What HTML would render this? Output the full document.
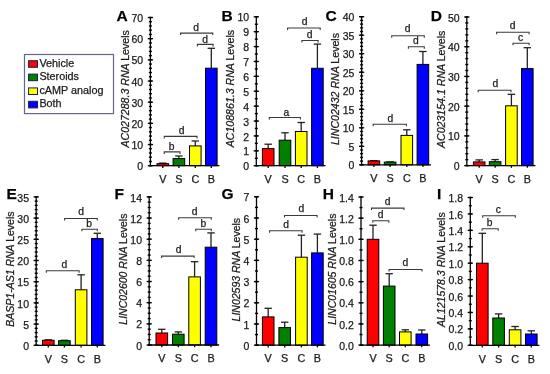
<!DOCTYPE html>
<html><head><meta charset="utf-8"><style>
html,body{margin:0;padding:0;background:#fff;}
svg{display:block;filter:blur(0.3px);}
text{font-family:"Liberation Sans", sans-serif;fill:#1a1a1a;stroke:#1a1a1a;stroke-width:0.25px;paint-order:stroke;}
.let{font-size:15.5px;font-weight:bold;fill:#000;}
.tk{font-size:10.5px;text-anchor:end;}
.xl{font-size:10.8px;text-anchor:middle;}
.bl{font-size:10.3px;text-anchor:middle;}
.yl{text-anchor:end;}
.lg{font-size:10.8px;}
.ax{stroke:#000;stroke-width:1.3;fill:none;}
.mt{stroke:#000;stroke-width:1.4;}
.Mt{stroke:#000;stroke-width:1.3;}
.eb{stroke:#222;stroke-width:1.3;fill:none;}
.bar{stroke:#000;stroke-width:1;}
.brk{stroke:#3a3a3a;stroke-width:1.1;fill:none;}
</style></head><body>
<svg width="550" height="374" viewBox="0 0 550 374">
<rect width="550" height="374" fill="#fff"/>

<rect x="24.5" y="54.5" width="89" height="59.1" fill="#fff" stroke="#636888" stroke-width="1.2"/>
<rect x="28.6" y="60.7" width="8.9" height="6.6" fill="#ff0000" stroke="#1a1f4a" stroke-width="1"/>
<rect x="28.6" y="74.1" width="8.9" height="6.6" fill="#008000" stroke="#1a1f4a" stroke-width="1"/>
<rect x="28.6" y="87.9" width="8.9" height="6.6" fill="#ffff00" stroke="#1a1f4a" stroke-width="1"/>
<rect x="28.6" y="101.3" width="8.9" height="6.6" fill="#0000ff" stroke="#1a1f4a" stroke-width="1"/>
<text x="39.4" y="67.1" class="lg">Vehicle</text>
<text x="39.4" y="80.4" class="lg">Steroids</text>
<text x="39.4" y="93.9" class="lg">cAMP analog</text>
<text x="39.4" y="107.0" class="lg">Both</text>

<text x="116.5" y="21.2" class="let">A</text>
<line x1="150.4" y1="17.5" x2="150.4" y2="165.7" class="ax"/>
<line x1="148.90" y1="165.70" x2="151.90" y2="165.70" class="mt"/>
<line x1="148.90" y1="161.47" x2="151.90" y2="161.47" class="mt"/>
<line x1="148.90" y1="157.23" x2="151.90" y2="157.23" class="mt"/>
<line x1="148.90" y1="153.00" x2="151.90" y2="153.00" class="mt"/>
<line x1="148.90" y1="148.76" x2="151.90" y2="148.76" class="mt"/>
<line x1="148.90" y1="144.53" x2="151.90" y2="144.53" class="mt"/>
<line x1="148.90" y1="140.29" x2="151.90" y2="140.29" class="mt"/>
<line x1="148.90" y1="136.06" x2="151.90" y2="136.06" class="mt"/>
<line x1="148.90" y1="131.83" x2="151.90" y2="131.83" class="mt"/>
<line x1="148.90" y1="127.59" x2="151.90" y2="127.59" class="mt"/>
<line x1="148.90" y1="123.36" x2="151.90" y2="123.36" class="mt"/>
<line x1="148.90" y1="119.12" x2="151.90" y2="119.12" class="mt"/>
<line x1="148.90" y1="114.89" x2="151.90" y2="114.89" class="mt"/>
<line x1="148.90" y1="110.65" x2="151.90" y2="110.65" class="mt"/>
<line x1="148.90" y1="106.42" x2="151.90" y2="106.42" class="mt"/>
<line x1="148.90" y1="102.19" x2="151.90" y2="102.19" class="mt"/>
<line x1="148.90" y1="97.95" x2="151.90" y2="97.95" class="mt"/>
<line x1="148.90" y1="93.72" x2="151.90" y2="93.72" class="mt"/>
<line x1="148.90" y1="89.48" x2="151.90" y2="89.48" class="mt"/>
<line x1="148.90" y1="85.25" x2="151.90" y2="85.25" class="mt"/>
<line x1="148.90" y1="81.01" x2="151.90" y2="81.01" class="mt"/>
<line x1="148.90" y1="76.78" x2="151.90" y2="76.78" class="mt"/>
<line x1="148.90" y1="72.55" x2="151.90" y2="72.55" class="mt"/>
<line x1="148.90" y1="68.31" x2="151.90" y2="68.31" class="mt"/>
<line x1="148.90" y1="64.08" x2="151.90" y2="64.08" class="mt"/>
<line x1="148.90" y1="59.84" x2="151.90" y2="59.84" class="mt"/>
<line x1="148.90" y1="55.61" x2="151.90" y2="55.61" class="mt"/>
<line x1="148.90" y1="51.37" x2="151.90" y2="51.37" class="mt"/>
<line x1="148.90" y1="47.14" x2="151.90" y2="47.14" class="mt"/>
<line x1="148.90" y1="42.91" x2="151.90" y2="42.91" class="mt"/>
<line x1="148.90" y1="38.67" x2="151.90" y2="38.67" class="mt"/>
<line x1="148.90" y1="34.44" x2="151.90" y2="34.44" class="mt"/>
<line x1="148.90" y1="30.20" x2="151.90" y2="30.20" class="mt"/>
<line x1="148.90" y1="25.97" x2="151.90" y2="25.97" class="mt"/>
<line x1="148.90" y1="21.73" x2="151.90" y2="21.73" class="mt"/>
<line x1="148.90" y1="17.50" x2="151.90" y2="17.50" class="mt"/>
<line x1="147.80" y1="165.70" x2="153.00" y2="165.70" class="Mt"/>
<text x="143.20" y="170.30" class="tk">0</text>
<line x1="147.80" y1="144.53" x2="153.00" y2="144.53" class="Mt"/>
<text x="143.20" y="149.13" class="tk">10</text>
<line x1="147.80" y1="123.36" x2="153.00" y2="123.36" class="Mt"/>
<text x="143.20" y="127.96" class="tk">20</text>
<line x1="147.80" y1="102.19" x2="153.00" y2="102.19" class="Mt"/>
<text x="143.20" y="106.79" class="tk">30</text>
<line x1="147.80" y1="81.01" x2="153.00" y2="81.01" class="Mt"/>
<text x="143.20" y="85.61" class="tk">40</text>
<line x1="147.80" y1="59.84" x2="153.00" y2="59.84" class="Mt"/>
<text x="143.20" y="64.44" class="tk">50</text>
<line x1="147.80" y1="38.67" x2="153.00" y2="38.67" class="Mt"/>
<text x="143.20" y="43.27" class="tk">60</text>
<line x1="147.80" y1="17.50" x2="153.00" y2="17.50" class="Mt"/>
<text x="143.20" y="22.10" class="tk">70</text>
<line x1="162.80" y1="163.10" x2="162.80" y2="163.70" class="eb"/>
<line x1="159.10" y1="163.10" x2="166.50" y2="163.10" class="eb"/>
<rect x="157.00" y="163.70" width="11.6" height="2.00" fill="#ff0000" class="bar"/>
<line x1="162.80" y1="165.70" x2="162.80" y2="167.90" class="ax"/>
<text x="162.80" y="182.90" class="xl">V</text>
<line x1="178.90" y1="156.00" x2="178.90" y2="158.60" class="eb"/>
<line x1="175.20" y1="156.00" x2="182.60" y2="156.00" class="eb"/>
<rect x="173.10" y="158.60" width="11.6" height="7.10" fill="#008000" class="bar"/>
<line x1="178.90" y1="165.70" x2="178.90" y2="167.90" class="ax"/>
<text x="178.90" y="182.90" class="xl">S</text>
<line x1="195.30" y1="141.00" x2="195.30" y2="145.90" class="eb"/>
<line x1="191.60" y1="141.00" x2="199.00" y2="141.00" class="eb"/>
<rect x="189.50" y="145.90" width="11.6" height="19.80" fill="#ffff00" class="bar"/>
<line x1="195.30" y1="165.70" x2="195.30" y2="167.90" class="ax"/>
<text x="195.30" y="182.90" class="xl">C</text>
<line x1="211.30" y1="48.30" x2="211.30" y2="68.20" class="eb"/>
<line x1="207.60" y1="48.30" x2="215.00" y2="48.30" class="eb"/>
<rect x="205.50" y="68.20" width="11.6" height="97.50" fill="#0000ff" class="bar"/>
<line x1="211.30" y1="165.70" x2="211.30" y2="167.90" class="ax"/>
<text x="211.30" y="182.90" class="xl">B</text>
<line x1="149.80" y1="165.70" x2="219.40" y2="165.70" class="ax"/>
<path d="M164.20 153.90V151.90H180.00V153.90" class="brk"/>
<text x="171.60" y="149.80" class="bl">b</text>
<path d="M164.30 138.40V136.40H197.00V138.40" class="brk"/>
<text x="181.50" y="133.50" class="bl">d</text>
<path d="M197.40 46.40V44.40H213.10V46.40" class="brk"/>
<text x="205.00" y="42.50" class="bl">d</text>
<path d="M180.60 35.10V33.10H212.80V35.10" class="brk"/>
<text x="196.00" y="30.50" class="bl">d</text>
<text transform="translate(128.50,30.20) rotate(-90)" class="yl" font-size="10.6"><tspan font-style="italic">AC027288.3 RNA </tspan>Levels</text>
<text x="221.5" y="21.2" class="let">B</text>
<line x1="256.3" y1="16.8" x2="256.3" y2="165.7" class="ax"/>
<line x1="254.80" y1="165.70" x2="257.80" y2="165.70" class="mt"/>
<line x1="254.80" y1="158.25" x2="257.80" y2="158.25" class="mt"/>
<line x1="254.80" y1="150.81" x2="257.80" y2="150.81" class="mt"/>
<line x1="254.80" y1="143.37" x2="257.80" y2="143.37" class="mt"/>
<line x1="254.80" y1="135.92" x2="257.80" y2="135.92" class="mt"/>
<line x1="254.80" y1="128.47" x2="257.80" y2="128.47" class="mt"/>
<line x1="254.80" y1="121.03" x2="257.80" y2="121.03" class="mt"/>
<line x1="254.80" y1="113.59" x2="257.80" y2="113.59" class="mt"/>
<line x1="254.80" y1="106.14" x2="257.80" y2="106.14" class="mt"/>
<line x1="254.80" y1="98.70" x2="257.80" y2="98.70" class="mt"/>
<line x1="254.80" y1="91.25" x2="257.80" y2="91.25" class="mt"/>
<line x1="254.80" y1="83.81" x2="257.80" y2="83.81" class="mt"/>
<line x1="254.80" y1="76.36" x2="257.80" y2="76.36" class="mt"/>
<line x1="254.80" y1="68.92" x2="257.80" y2="68.92" class="mt"/>
<line x1="254.80" y1="61.47" x2="257.80" y2="61.47" class="mt"/>
<line x1="254.80" y1="54.03" x2="257.80" y2="54.03" class="mt"/>
<line x1="254.80" y1="46.58" x2="257.80" y2="46.58" class="mt"/>
<line x1="254.80" y1="39.14" x2="257.80" y2="39.14" class="mt"/>
<line x1="254.80" y1="31.69" x2="257.80" y2="31.69" class="mt"/>
<line x1="254.80" y1="24.25" x2="257.80" y2="24.25" class="mt"/>
<line x1="254.80" y1="16.80" x2="257.80" y2="16.80" class="mt"/>
<line x1="253.70" y1="165.70" x2="258.90" y2="165.70" class="Mt"/>
<text x="249.10" y="170.30" class="tk">0</text>
<line x1="253.70" y1="150.81" x2="258.90" y2="150.81" class="Mt"/>
<text x="249.10" y="155.41" class="tk">1</text>
<line x1="253.70" y1="135.92" x2="258.90" y2="135.92" class="Mt"/>
<text x="249.10" y="140.52" class="tk">2</text>
<line x1="253.70" y1="121.03" x2="258.90" y2="121.03" class="Mt"/>
<text x="249.10" y="125.63" class="tk">3</text>
<line x1="253.70" y1="106.14" x2="258.90" y2="106.14" class="Mt"/>
<text x="249.10" y="110.74" class="tk">4</text>
<line x1="253.70" y1="91.25" x2="258.90" y2="91.25" class="Mt"/>
<text x="249.10" y="95.85" class="tk">5</text>
<line x1="253.70" y1="76.36" x2="258.90" y2="76.36" class="Mt"/>
<text x="249.10" y="80.96" class="tk">6</text>
<line x1="253.70" y1="61.47" x2="258.90" y2="61.47" class="Mt"/>
<text x="249.10" y="66.07" class="tk">7</text>
<line x1="253.70" y1="46.58" x2="258.90" y2="46.58" class="Mt"/>
<text x="249.10" y="51.18" class="tk">8</text>
<line x1="253.70" y1="31.69" x2="258.90" y2="31.69" class="Mt"/>
<text x="249.10" y="36.29" class="tk">9</text>
<line x1="253.70" y1="16.80" x2="258.90" y2="16.80" class="Mt"/>
<text x="249.10" y="21.40" class="tk">10</text>
<line x1="268.20" y1="144.20" x2="268.20" y2="148.60" class="eb"/>
<line x1="264.50" y1="144.20" x2="271.90" y2="144.20" class="eb"/>
<rect x="262.40" y="148.60" width="11.6" height="17.10" fill="#ff0000" class="bar"/>
<line x1="268.20" y1="165.70" x2="268.20" y2="167.90" class="ax"/>
<text x="268.20" y="182.90" class="xl">V</text>
<line x1="285.00" y1="132.80" x2="285.00" y2="140.20" class="eb"/>
<line x1="281.30" y1="132.80" x2="288.70" y2="132.80" class="eb"/>
<rect x="279.20" y="140.20" width="11.6" height="25.50" fill="#008000" class="bar"/>
<line x1="285.00" y1="165.70" x2="285.00" y2="167.90" class="ax"/>
<text x="285.00" y="182.90" class="xl">S</text>
<line x1="301.20" y1="122.50" x2="301.20" y2="131.50" class="eb"/>
<line x1="297.50" y1="122.50" x2="304.90" y2="122.50" class="eb"/>
<rect x="295.40" y="131.50" width="11.6" height="34.20" fill="#ffff00" class="bar"/>
<line x1="301.20" y1="165.70" x2="301.20" y2="167.90" class="ax"/>
<text x="301.20" y="182.90" class="xl">C</text>
<line x1="317.40" y1="44.10" x2="317.40" y2="68.30" class="eb"/>
<line x1="313.70" y1="44.10" x2="321.10" y2="44.10" class="eb"/>
<rect x="311.60" y="68.30" width="11.6" height="97.40" fill="#0000ff" class="bar"/>
<line x1="317.40" y1="165.70" x2="317.40" y2="167.90" class="ax"/>
<text x="317.40" y="182.90" class="xl">B</text>
<line x1="255.70" y1="165.70" x2="325.50" y2="165.70" class="ax"/>
<path d="M269.30 119.50V117.50H300.40V119.50" class="brk"/>
<text x="286.40" y="115.60" class="bl">a</text>
<path d="M301.90 42.50V40.50H318.10V42.50" class="brk"/>
<text x="309.70" y="38.30" class="bl">d</text>
<path d="M287.60 30.00V28.00H320.20V30.00" class="brk"/>
<text x="304.50" y="25.00" class="bl">d</text>
<text transform="translate(234.00,29.90) rotate(-90)" class="yl" font-size="10.6"><tspan font-style="italic">AC108861.3 RNA </tspan>Levels</text>
<text x="325.5" y="21.2" class="let">C</text>
<line x1="361.6" y1="16.7" x2="361.6" y2="164.8" class="ax"/>
<line x1="360.10" y1="164.80" x2="363.10" y2="164.80" class="mt"/>
<line x1="360.10" y1="161.10" x2="363.10" y2="161.10" class="mt"/>
<line x1="360.10" y1="157.40" x2="363.10" y2="157.40" class="mt"/>
<line x1="360.10" y1="153.69" x2="363.10" y2="153.69" class="mt"/>
<line x1="360.10" y1="149.99" x2="363.10" y2="149.99" class="mt"/>
<line x1="360.10" y1="146.29" x2="363.10" y2="146.29" class="mt"/>
<line x1="360.10" y1="142.59" x2="363.10" y2="142.59" class="mt"/>
<line x1="360.10" y1="138.88" x2="363.10" y2="138.88" class="mt"/>
<line x1="360.10" y1="135.18" x2="363.10" y2="135.18" class="mt"/>
<line x1="360.10" y1="131.48" x2="363.10" y2="131.48" class="mt"/>
<line x1="360.10" y1="127.78" x2="363.10" y2="127.78" class="mt"/>
<line x1="360.10" y1="124.07" x2="363.10" y2="124.07" class="mt"/>
<line x1="360.10" y1="120.37" x2="363.10" y2="120.37" class="mt"/>
<line x1="360.10" y1="116.67" x2="363.10" y2="116.67" class="mt"/>
<line x1="360.10" y1="112.97" x2="363.10" y2="112.97" class="mt"/>
<line x1="360.10" y1="109.26" x2="363.10" y2="109.26" class="mt"/>
<line x1="360.10" y1="105.56" x2="363.10" y2="105.56" class="mt"/>
<line x1="360.10" y1="101.86" x2="363.10" y2="101.86" class="mt"/>
<line x1="360.10" y1="98.16" x2="363.10" y2="98.16" class="mt"/>
<line x1="360.10" y1="94.45" x2="363.10" y2="94.45" class="mt"/>
<line x1="360.10" y1="90.75" x2="363.10" y2="90.75" class="mt"/>
<line x1="360.10" y1="87.05" x2="363.10" y2="87.05" class="mt"/>
<line x1="360.10" y1="83.34" x2="363.10" y2="83.34" class="mt"/>
<line x1="360.10" y1="79.64" x2="363.10" y2="79.64" class="mt"/>
<line x1="360.10" y1="75.94" x2="363.10" y2="75.94" class="mt"/>
<line x1="360.10" y1="72.24" x2="363.10" y2="72.24" class="mt"/>
<line x1="360.10" y1="68.53" x2="363.10" y2="68.53" class="mt"/>
<line x1="360.10" y1="64.83" x2="363.10" y2="64.83" class="mt"/>
<line x1="360.10" y1="61.13" x2="363.10" y2="61.13" class="mt"/>
<line x1="360.10" y1="57.43" x2="363.10" y2="57.43" class="mt"/>
<line x1="360.10" y1="53.72" x2="363.10" y2="53.72" class="mt"/>
<line x1="360.10" y1="50.02" x2="363.10" y2="50.02" class="mt"/>
<line x1="360.10" y1="46.32" x2="363.10" y2="46.32" class="mt"/>
<line x1="360.10" y1="42.62" x2="363.10" y2="42.62" class="mt"/>
<line x1="360.10" y1="38.91" x2="363.10" y2="38.91" class="mt"/>
<line x1="360.10" y1="35.21" x2="363.10" y2="35.21" class="mt"/>
<line x1="360.10" y1="31.51" x2="363.10" y2="31.51" class="mt"/>
<line x1="360.10" y1="27.81" x2="363.10" y2="27.81" class="mt"/>
<line x1="360.10" y1="24.10" x2="363.10" y2="24.10" class="mt"/>
<line x1="360.10" y1="20.40" x2="363.10" y2="20.40" class="mt"/>
<line x1="360.10" y1="16.70" x2="363.10" y2="16.70" class="mt"/>
<line x1="359.00" y1="164.80" x2="364.20" y2="164.80" class="Mt"/>
<text x="354.40" y="169.40" class="tk">0</text>
<line x1="359.00" y1="146.29" x2="364.20" y2="146.29" class="Mt"/>
<text x="354.40" y="150.89" class="tk">5</text>
<line x1="359.00" y1="127.78" x2="364.20" y2="127.78" class="Mt"/>
<text x="354.40" y="132.38" class="tk">10</text>
<line x1="359.00" y1="109.26" x2="364.20" y2="109.26" class="Mt"/>
<text x="354.40" y="113.86" class="tk">15</text>
<line x1="359.00" y1="90.75" x2="364.20" y2="90.75" class="Mt"/>
<text x="354.40" y="95.35" class="tk">20</text>
<line x1="359.00" y1="72.24" x2="364.20" y2="72.24" class="Mt"/>
<text x="354.40" y="76.84" class="tk">25</text>
<line x1="359.00" y1="53.72" x2="364.20" y2="53.72" class="Mt"/>
<text x="354.40" y="58.32" class="tk">30</text>
<line x1="359.00" y1="35.21" x2="364.20" y2="35.21" class="Mt"/>
<text x="354.40" y="39.81" class="tk">35</text>
<line x1="359.00" y1="16.70" x2="364.20" y2="16.70" class="Mt"/>
<text x="354.40" y="21.30" class="tk">40</text>
<line x1="373.90" y1="160.70" x2="373.90" y2="160.90" class="eb"/>
<line x1="370.20" y1="160.70" x2="377.60" y2="160.70" class="eb"/>
<rect x="368.10" y="160.90" width="11.6" height="3.90" fill="#ff0000" class="bar"/>
<line x1="373.90" y1="164.80" x2="373.90" y2="167.00" class="ax"/>
<text x="373.90" y="182.00" class="xl">V</text>
<line x1="390.10" y1="161.90" x2="390.10" y2="162.10" class="eb"/>
<line x1="386.40" y1="161.90" x2="393.80" y2="161.90" class="eb"/>
<rect x="384.30" y="162.10" width="11.6" height="2.70" fill="#008000" class="bar"/>
<line x1="390.10" y1="164.80" x2="390.10" y2="167.00" class="ax"/>
<text x="390.10" y="182.00" class="xl">S</text>
<line x1="406.80" y1="129.80" x2="406.80" y2="135.40" class="eb"/>
<line x1="403.10" y1="129.80" x2="410.50" y2="129.80" class="eb"/>
<rect x="401.00" y="135.40" width="11.6" height="29.40" fill="#ffff00" class="bar"/>
<line x1="406.80" y1="164.80" x2="406.80" y2="167.00" class="ax"/>
<text x="406.80" y="182.00" class="xl">C</text>
<line x1="422.90" y1="51.50" x2="422.90" y2="64.40" class="eb"/>
<line x1="419.20" y1="51.50" x2="426.60" y2="51.50" class="eb"/>
<rect x="417.10" y="64.40" width="11.6" height="100.40" fill="#0000ff" class="bar"/>
<line x1="422.90" y1="164.80" x2="422.90" y2="167.00" class="ax"/>
<text x="422.90" y="182.00" class="xl">B</text>
<line x1="361.00" y1="164.80" x2="431.00" y2="164.80" class="ax"/>
<path d="M373.20 126.30V124.30H406.40V126.30" class="brk"/>
<text x="390.40" y="121.50" class="bl">d</text>
<path d="M408.40 48.70V46.70H424.30V48.70" class="brk"/>
<text x="415.80" y="44.10" class="bl">d</text>
<path d="M391.70 37.80V35.80H424.30V37.80" class="brk"/>
<text x="407.50" y="32.10" class="bl">d</text>
<text transform="translate(338.60,33.00) rotate(-90)" class="yl" font-size="10.6"><tspan font-style="italic">LINC02432 RNA </tspan>Levels</text>
<text x="430.8" y="21.2" class="let">D</text>
<line x1="466.8" y1="17.0" x2="466.8" y2="165.6" class="ax"/>
<line x1="465.30" y1="165.60" x2="468.30" y2="165.60" class="mt"/>
<line x1="465.30" y1="159.66" x2="468.30" y2="159.66" class="mt"/>
<line x1="465.30" y1="153.71" x2="468.30" y2="153.71" class="mt"/>
<line x1="465.30" y1="147.77" x2="468.30" y2="147.77" class="mt"/>
<line x1="465.30" y1="141.82" x2="468.30" y2="141.82" class="mt"/>
<line x1="465.30" y1="135.88" x2="468.30" y2="135.88" class="mt"/>
<line x1="465.30" y1="129.94" x2="468.30" y2="129.94" class="mt"/>
<line x1="465.30" y1="123.99" x2="468.30" y2="123.99" class="mt"/>
<line x1="465.30" y1="118.05" x2="468.30" y2="118.05" class="mt"/>
<line x1="465.30" y1="112.10" x2="468.30" y2="112.10" class="mt"/>
<line x1="465.30" y1="106.16" x2="468.30" y2="106.16" class="mt"/>
<line x1="465.30" y1="100.22" x2="468.30" y2="100.22" class="mt"/>
<line x1="465.30" y1="94.27" x2="468.30" y2="94.27" class="mt"/>
<line x1="465.30" y1="88.33" x2="468.30" y2="88.33" class="mt"/>
<line x1="465.30" y1="82.38" x2="468.30" y2="82.38" class="mt"/>
<line x1="465.30" y1="76.44" x2="468.30" y2="76.44" class="mt"/>
<line x1="465.30" y1="70.50" x2="468.30" y2="70.50" class="mt"/>
<line x1="465.30" y1="64.55" x2="468.30" y2="64.55" class="mt"/>
<line x1="465.30" y1="58.61" x2="468.30" y2="58.61" class="mt"/>
<line x1="465.30" y1="52.66" x2="468.30" y2="52.66" class="mt"/>
<line x1="465.30" y1="46.72" x2="468.30" y2="46.72" class="mt"/>
<line x1="465.30" y1="40.78" x2="468.30" y2="40.78" class="mt"/>
<line x1="465.30" y1="34.83" x2="468.30" y2="34.83" class="mt"/>
<line x1="465.30" y1="28.89" x2="468.30" y2="28.89" class="mt"/>
<line x1="465.30" y1="22.94" x2="468.30" y2="22.94" class="mt"/>
<line x1="465.30" y1="17.00" x2="468.30" y2="17.00" class="mt"/>
<line x1="464.20" y1="165.60" x2="469.40" y2="165.60" class="Mt"/>
<text x="459.60" y="170.20" class="tk">0</text>
<line x1="464.20" y1="135.88" x2="469.40" y2="135.88" class="Mt"/>
<text x="459.60" y="140.48" class="tk">10</text>
<line x1="464.20" y1="106.16" x2="469.40" y2="106.16" class="Mt"/>
<text x="459.60" y="110.76" class="tk">20</text>
<line x1="464.20" y1="76.44" x2="469.40" y2="76.44" class="Mt"/>
<text x="459.60" y="81.04" class="tk">30</text>
<line x1="464.20" y1="46.72" x2="469.40" y2="46.72" class="Mt"/>
<text x="459.60" y="51.32" class="tk">40</text>
<line x1="464.20" y1="17.00" x2="469.40" y2="17.00" class="Mt"/>
<text x="459.60" y="21.60" class="tk">50</text>
<line x1="479.20" y1="159.90" x2="479.20" y2="161.90" class="eb"/>
<line x1="475.50" y1="159.90" x2="482.90" y2="159.90" class="eb"/>
<rect x="473.40" y="161.90" width="11.6" height="3.70" fill="#ff0000" class="bar"/>
<line x1="479.20" y1="165.60" x2="479.20" y2="167.80" class="ax"/>
<text x="479.20" y="182.80" class="xl">V</text>
<line x1="495.10" y1="159.60" x2="495.10" y2="161.70" class="eb"/>
<line x1="491.40" y1="159.60" x2="498.80" y2="159.60" class="eb"/>
<rect x="489.30" y="161.70" width="11.6" height="3.90" fill="#008000" class="bar"/>
<line x1="495.10" y1="165.60" x2="495.10" y2="167.80" class="ax"/>
<text x="495.10" y="182.80" class="xl">S</text>
<line x1="511.40" y1="94.30" x2="511.40" y2="105.80" class="eb"/>
<line x1="507.70" y1="94.30" x2="515.10" y2="94.30" class="eb"/>
<rect x="505.60" y="105.80" width="11.6" height="59.80" fill="#ffff00" class="bar"/>
<line x1="511.40" y1="165.60" x2="511.40" y2="167.80" class="ax"/>
<text x="511.40" y="182.80" class="xl">C</text>
<line x1="527.30" y1="47.70" x2="527.30" y2="68.60" class="eb"/>
<line x1="523.60" y1="47.70" x2="531.00" y2="47.70" class="eb"/>
<rect x="521.50" y="68.60" width="11.6" height="97.00" fill="#0000ff" class="bar"/>
<line x1="527.30" y1="165.60" x2="527.30" y2="167.80" class="ax"/>
<text x="527.30" y="182.80" class="xl">B</text>
<line x1="466.20" y1="165.60" x2="535.40" y2="165.60" class="ax"/>
<path d="M478.20 92.20V90.20H511.00V92.20" class="brk"/>
<text x="495.30" y="87.20" class="bl">d</text>
<path d="M513.00 45.30V43.30H529.10V45.30" class="brk"/>
<text x="520.50" y="41.10" class="bl">c</text>
<path d="M496.60 34.20V32.20H529.10V34.20" class="brk"/>
<text x="512.50" y="28.80" class="bl">d</text>
<text transform="translate(445.00,30.70) rotate(-90)" class="yl" font-size="10.6"><tspan font-style="italic">AC023154.1 RNA </tspan>Levels</text>
<text x="6.5" y="199.3" class="let">E</text>
<line x1="36.2" y1="196.9" x2="36.2" y2="345.3" class="ax"/>
<line x1="34.70" y1="345.30" x2="37.70" y2="345.30" class="mt"/>
<line x1="34.70" y1="341.06" x2="37.70" y2="341.06" class="mt"/>
<line x1="34.70" y1="336.82" x2="37.70" y2="336.82" class="mt"/>
<line x1="34.70" y1="332.58" x2="37.70" y2="332.58" class="mt"/>
<line x1="34.70" y1="328.34" x2="37.70" y2="328.34" class="mt"/>
<line x1="34.70" y1="324.10" x2="37.70" y2="324.10" class="mt"/>
<line x1="34.70" y1="319.86" x2="37.70" y2="319.86" class="mt"/>
<line x1="34.70" y1="315.62" x2="37.70" y2="315.62" class="mt"/>
<line x1="34.70" y1="311.38" x2="37.70" y2="311.38" class="mt"/>
<line x1="34.70" y1="307.14" x2="37.70" y2="307.14" class="mt"/>
<line x1="34.70" y1="302.90" x2="37.70" y2="302.90" class="mt"/>
<line x1="34.70" y1="298.66" x2="37.70" y2="298.66" class="mt"/>
<line x1="34.70" y1="294.42" x2="37.70" y2="294.42" class="mt"/>
<line x1="34.70" y1="290.18" x2="37.70" y2="290.18" class="mt"/>
<line x1="34.70" y1="285.94" x2="37.70" y2="285.94" class="mt"/>
<line x1="34.70" y1="281.70" x2="37.70" y2="281.70" class="mt"/>
<line x1="34.70" y1="277.46" x2="37.70" y2="277.46" class="mt"/>
<line x1="34.70" y1="273.22" x2="37.70" y2="273.22" class="mt"/>
<line x1="34.70" y1="268.98" x2="37.70" y2="268.98" class="mt"/>
<line x1="34.70" y1="264.74" x2="37.70" y2="264.74" class="mt"/>
<line x1="34.70" y1="260.50" x2="37.70" y2="260.50" class="mt"/>
<line x1="34.70" y1="256.26" x2="37.70" y2="256.26" class="mt"/>
<line x1="34.70" y1="252.02" x2="37.70" y2="252.02" class="mt"/>
<line x1="34.70" y1="247.78" x2="37.70" y2="247.78" class="mt"/>
<line x1="34.70" y1="243.54" x2="37.70" y2="243.54" class="mt"/>
<line x1="34.70" y1="239.30" x2="37.70" y2="239.30" class="mt"/>
<line x1="34.70" y1="235.06" x2="37.70" y2="235.06" class="mt"/>
<line x1="34.70" y1="230.82" x2="37.70" y2="230.82" class="mt"/>
<line x1="34.70" y1="226.58" x2="37.70" y2="226.58" class="mt"/>
<line x1="34.70" y1="222.34" x2="37.70" y2="222.34" class="mt"/>
<line x1="34.70" y1="218.10" x2="37.70" y2="218.10" class="mt"/>
<line x1="34.70" y1="213.86" x2="37.70" y2="213.86" class="mt"/>
<line x1="34.70" y1="209.62" x2="37.70" y2="209.62" class="mt"/>
<line x1="34.70" y1="205.38" x2="37.70" y2="205.38" class="mt"/>
<line x1="34.70" y1="201.14" x2="37.70" y2="201.14" class="mt"/>
<line x1="34.70" y1="196.90" x2="37.70" y2="196.90" class="mt"/>
<line x1="33.60" y1="345.30" x2="38.80" y2="345.30" class="Mt"/>
<text x="29.00" y="349.90" class="tk">0</text>
<line x1="33.60" y1="324.10" x2="38.80" y2="324.10" class="Mt"/>
<text x="29.00" y="328.70" class="tk">5</text>
<line x1="33.60" y1="302.90" x2="38.80" y2="302.90" class="Mt"/>
<text x="29.00" y="307.50" class="tk">10</text>
<line x1="33.60" y1="281.70" x2="38.80" y2="281.70" class="Mt"/>
<text x="29.00" y="286.30" class="tk">15</text>
<line x1="33.60" y1="260.50" x2="38.80" y2="260.50" class="Mt"/>
<text x="29.00" y="265.10" class="tk">20</text>
<line x1="33.60" y1="239.30" x2="38.80" y2="239.30" class="Mt"/>
<text x="29.00" y="243.90" class="tk">25</text>
<line x1="33.60" y1="218.10" x2="38.80" y2="218.10" class="Mt"/>
<text x="29.00" y="222.70" class="tk">30</text>
<line x1="33.60" y1="196.90" x2="38.80" y2="196.90" class="Mt"/>
<text x="29.00" y="201.50" class="tk">35</text>
<line x1="48.30" y1="339.80" x2="48.30" y2="340.30" class="eb"/>
<line x1="44.60" y1="339.80" x2="52.00" y2="339.80" class="eb"/>
<rect x="42.50" y="340.30" width="11.6" height="5.00" fill="#ff0000" class="bar"/>
<line x1="48.30" y1="345.30" x2="48.30" y2="347.50" class="ax"/>
<text x="48.30" y="362.50" class="xl">V</text>
<line x1="64.40" y1="340.30" x2="64.40" y2="340.70" class="eb"/>
<line x1="60.70" y1="340.30" x2="68.10" y2="340.30" class="eb"/>
<rect x="58.60" y="340.70" width="11.6" height="4.60" fill="#008000" class="bar"/>
<line x1="64.40" y1="345.30" x2="64.40" y2="347.50" class="ax"/>
<text x="64.40" y="362.50" class="xl">S</text>
<line x1="81.10" y1="274.80" x2="81.10" y2="289.80" class="eb"/>
<line x1="77.40" y1="274.80" x2="84.80" y2="274.80" class="eb"/>
<rect x="75.30" y="289.80" width="11.6" height="55.50" fill="#ffff00" class="bar"/>
<line x1="81.10" y1="345.30" x2="81.10" y2="347.50" class="ax"/>
<text x="81.10" y="362.50" class="xl">C</text>
<line x1="97.30" y1="233.30" x2="97.30" y2="238.60" class="eb"/>
<line x1="93.60" y1="233.30" x2="101.00" y2="233.30" class="eb"/>
<rect x="91.50" y="238.60" width="11.6" height="106.70" fill="#0000ff" class="bar"/>
<line x1="97.30" y1="345.30" x2="97.30" y2="347.50" class="ax"/>
<text x="97.30" y="362.50" class="xl">B</text>
<line x1="35.60" y1="345.30" x2="105.40" y2="345.30" class="ax"/>
<path d="M46.30 272.70V270.70H79.10V272.70" class="brk"/>
<text x="64.30" y="267.50" class="bl">d</text>
<path d="M81.90 231.20V229.20H97.30V231.20" class="brk"/>
<text x="89.20" y="227.00" class="bl">b</text>
<path d="M64.60 220.50V218.50H97.30V220.50" class="brk"/>
<text x="81.00" y="214.70" class="bl">d</text>
<text transform="translate(13.60,211.50) rotate(-90)" class="yl" font-size="10.5"><tspan font-style="italic">BASP1-AS1 RNA </tspan>Levels</text>
<text x="114.5" y="199.3" class="let">F</text>
<line x1="149.2" y1="196.9" x2="149.2" y2="345.0" class="ax"/>
<line x1="147.70" y1="345.00" x2="150.70" y2="345.00" class="mt"/>
<line x1="147.70" y1="339.71" x2="150.70" y2="339.71" class="mt"/>
<line x1="147.70" y1="334.42" x2="150.70" y2="334.42" class="mt"/>
<line x1="147.70" y1="329.13" x2="150.70" y2="329.13" class="mt"/>
<line x1="147.70" y1="323.84" x2="150.70" y2="323.84" class="mt"/>
<line x1="147.70" y1="318.55" x2="150.70" y2="318.55" class="mt"/>
<line x1="147.70" y1="313.26" x2="150.70" y2="313.26" class="mt"/>
<line x1="147.70" y1="307.98" x2="150.70" y2="307.98" class="mt"/>
<line x1="147.70" y1="302.69" x2="150.70" y2="302.69" class="mt"/>
<line x1="147.70" y1="297.40" x2="150.70" y2="297.40" class="mt"/>
<line x1="147.70" y1="292.11" x2="150.70" y2="292.11" class="mt"/>
<line x1="147.70" y1="286.82" x2="150.70" y2="286.82" class="mt"/>
<line x1="147.70" y1="281.53" x2="150.70" y2="281.53" class="mt"/>
<line x1="147.70" y1="276.24" x2="150.70" y2="276.24" class="mt"/>
<line x1="147.70" y1="270.95" x2="150.70" y2="270.95" class="mt"/>
<line x1="147.70" y1="265.66" x2="150.70" y2="265.66" class="mt"/>
<line x1="147.70" y1="260.37" x2="150.70" y2="260.37" class="mt"/>
<line x1="147.70" y1="255.08" x2="150.70" y2="255.08" class="mt"/>
<line x1="147.70" y1="249.79" x2="150.70" y2="249.79" class="mt"/>
<line x1="147.70" y1="244.50" x2="150.70" y2="244.50" class="mt"/>
<line x1="147.70" y1="239.21" x2="150.70" y2="239.21" class="mt"/>
<line x1="147.70" y1="233.93" x2="150.70" y2="233.93" class="mt"/>
<line x1="147.70" y1="228.64" x2="150.70" y2="228.64" class="mt"/>
<line x1="147.70" y1="223.35" x2="150.70" y2="223.35" class="mt"/>
<line x1="147.70" y1="218.06" x2="150.70" y2="218.06" class="mt"/>
<line x1="147.70" y1="212.77" x2="150.70" y2="212.77" class="mt"/>
<line x1="147.70" y1="207.48" x2="150.70" y2="207.48" class="mt"/>
<line x1="147.70" y1="202.19" x2="150.70" y2="202.19" class="mt"/>
<line x1="147.70" y1="196.90" x2="150.70" y2="196.90" class="mt"/>
<line x1="146.60" y1="345.00" x2="151.80" y2="345.00" class="Mt"/>
<text x="142.00" y="349.60" class="tk">0</text>
<line x1="146.60" y1="323.84" x2="151.80" y2="323.84" class="Mt"/>
<text x="142.00" y="328.44" class="tk">2</text>
<line x1="146.60" y1="302.69" x2="151.80" y2="302.69" class="Mt"/>
<text x="142.00" y="307.29" class="tk">4</text>
<line x1="146.60" y1="281.53" x2="151.80" y2="281.53" class="Mt"/>
<text x="142.00" y="286.13" class="tk">6</text>
<line x1="146.60" y1="260.37" x2="151.80" y2="260.37" class="Mt"/>
<text x="142.00" y="264.97" class="tk">8</text>
<line x1="146.60" y1="239.21" x2="151.80" y2="239.21" class="Mt"/>
<text x="142.00" y="243.81" class="tk">10</text>
<line x1="146.60" y1="218.06" x2="151.80" y2="218.06" class="Mt"/>
<text x="142.00" y="222.66" class="tk">12</text>
<line x1="146.60" y1="196.90" x2="151.80" y2="196.90" class="Mt"/>
<text x="142.00" y="201.50" class="tk">14</text>
<line x1="161.80" y1="329.30" x2="161.80" y2="333.00" class="eb"/>
<line x1="158.10" y1="329.30" x2="165.50" y2="329.30" class="eb"/>
<rect x="156.00" y="333.00" width="11.6" height="12.00" fill="#ff0000" class="bar"/>
<line x1="161.80" y1="345.00" x2="161.80" y2="347.20" class="ax"/>
<text x="161.80" y="362.20" class="xl">V</text>
<line x1="178.30" y1="331.90" x2="178.30" y2="334.20" class="eb"/>
<line x1="174.60" y1="331.90" x2="182.00" y2="331.90" class="eb"/>
<rect x="172.50" y="334.20" width="11.6" height="10.80" fill="#008000" class="bar"/>
<line x1="178.30" y1="345.00" x2="178.30" y2="347.20" class="ax"/>
<text x="178.30" y="362.20" class="xl">S</text>
<line x1="194.60" y1="261.70" x2="194.60" y2="276.90" class="eb"/>
<line x1="190.90" y1="261.70" x2="198.30" y2="261.70" class="eb"/>
<rect x="188.80" y="276.90" width="11.6" height="68.10" fill="#ffff00" class="bar"/>
<line x1="194.60" y1="345.00" x2="194.60" y2="347.20" class="ax"/>
<text x="194.60" y="362.20" class="xl">C</text>
<line x1="211.00" y1="232.90" x2="211.00" y2="247.20" class="eb"/>
<line x1="207.30" y1="232.90" x2="214.70" y2="232.90" class="eb"/>
<rect x="205.20" y="247.20" width="11.6" height="97.80" fill="#0000ff" class="bar"/>
<line x1="211.00" y1="345.00" x2="211.00" y2="347.20" class="ax"/>
<text x="211.00" y="362.20" class="xl">B</text>
<line x1="148.60" y1="345.00" x2="219.10" y2="345.00" class="ax"/>
<path d="M161.60 258.10V256.10H194.10V258.10" class="brk"/>
<text x="178.60" y="253.30" class="bl">d</text>
<path d="M195.70 231.20V229.20H211.30V231.20" class="brk"/>
<text x="203.30" y="227.00" class="bl">b</text>
<path d="M178.60 219.70V217.70H211.30V219.70" class="brk"/>
<text x="194.50" y="214.50" class="bl">d</text>
<text transform="translate(126.80,213.60) rotate(-90)" class="yl" font-size="10.5"><tspan font-style="italic">LINC02600 RNA </tspan>Levels</text>
<text x="221.5" y="199.3" class="let">G</text>
<line x1="256.5" y1="196.8" x2="256.5" y2="345.2" class="ax"/>
<line x1="255.00" y1="345.20" x2="258.00" y2="345.20" class="mt"/>
<line x1="255.00" y1="334.60" x2="258.00" y2="334.60" class="mt"/>
<line x1="255.00" y1="324.00" x2="258.00" y2="324.00" class="mt"/>
<line x1="255.00" y1="313.40" x2="258.00" y2="313.40" class="mt"/>
<line x1="255.00" y1="302.80" x2="258.00" y2="302.80" class="mt"/>
<line x1="255.00" y1="292.20" x2="258.00" y2="292.20" class="mt"/>
<line x1="255.00" y1="281.60" x2="258.00" y2="281.60" class="mt"/>
<line x1="255.00" y1="271.00" x2="258.00" y2="271.00" class="mt"/>
<line x1="255.00" y1="260.40" x2="258.00" y2="260.40" class="mt"/>
<line x1="255.00" y1="249.80" x2="258.00" y2="249.80" class="mt"/>
<line x1="255.00" y1="239.20" x2="258.00" y2="239.20" class="mt"/>
<line x1="255.00" y1="228.60" x2="258.00" y2="228.60" class="mt"/>
<line x1="255.00" y1="218.00" x2="258.00" y2="218.00" class="mt"/>
<line x1="255.00" y1="207.40" x2="258.00" y2="207.40" class="mt"/>
<line x1="255.00" y1="196.80" x2="258.00" y2="196.80" class="mt"/>
<line x1="253.90" y1="345.20" x2="259.10" y2="345.20" class="Mt"/>
<text x="249.30" y="349.80" class="tk">0</text>
<line x1="253.90" y1="324.00" x2="259.10" y2="324.00" class="Mt"/>
<text x="249.30" y="328.60" class="tk">1</text>
<line x1="253.90" y1="302.80" x2="259.10" y2="302.80" class="Mt"/>
<text x="249.30" y="307.40" class="tk">2</text>
<line x1="253.90" y1="281.60" x2="259.10" y2="281.60" class="Mt"/>
<text x="249.30" y="286.20" class="tk">3</text>
<line x1="253.90" y1="260.40" x2="259.10" y2="260.40" class="Mt"/>
<text x="249.30" y="265.00" class="tk">4</text>
<line x1="253.90" y1="239.20" x2="259.10" y2="239.20" class="Mt"/>
<text x="249.30" y="243.80" class="tk">5</text>
<line x1="253.90" y1="218.00" x2="259.10" y2="218.00" class="Mt"/>
<text x="249.30" y="222.60" class="tk">6</text>
<line x1="253.90" y1="196.80" x2="259.10" y2="196.80" class="Mt"/>
<text x="249.30" y="201.40" class="tk">7</text>
<line x1="268.20" y1="308.30" x2="268.20" y2="316.90" class="eb"/>
<line x1="264.50" y1="308.30" x2="271.90" y2="308.30" class="eb"/>
<rect x="262.40" y="316.90" width="11.6" height="28.30" fill="#ff0000" class="bar"/>
<line x1="268.20" y1="345.20" x2="268.20" y2="347.40" class="ax"/>
<text x="268.20" y="362.40" class="xl">V</text>
<line x1="284.70" y1="322.20" x2="284.70" y2="327.60" class="eb"/>
<line x1="281.00" y1="322.20" x2="288.40" y2="322.20" class="eb"/>
<rect x="278.90" y="327.60" width="11.6" height="17.60" fill="#008000" class="bar"/>
<line x1="284.70" y1="345.20" x2="284.70" y2="347.40" class="ax"/>
<text x="284.70" y="362.40" class="xl">S</text>
<line x1="301.40" y1="235.20" x2="301.40" y2="257.20" class="eb"/>
<line x1="297.70" y1="235.20" x2="305.10" y2="235.20" class="eb"/>
<rect x="295.60" y="257.20" width="11.6" height="88.00" fill="#ffff00" class="bar"/>
<line x1="301.40" y1="345.20" x2="301.40" y2="347.40" class="ax"/>
<text x="301.40" y="362.40" class="xl">C</text>
<line x1="317.40" y1="234.10" x2="317.40" y2="252.90" class="eb"/>
<line x1="313.70" y1="234.10" x2="321.10" y2="234.10" class="eb"/>
<rect x="311.60" y="252.90" width="11.6" height="92.30" fill="#0000ff" class="bar"/>
<line x1="317.40" y1="345.20" x2="317.40" y2="347.40" class="ax"/>
<text x="317.40" y="362.40" class="xl">B</text>
<line x1="255.90" y1="345.20" x2="325.50" y2="345.20" class="ax"/>
<path d="M269.60 232.80V230.80H302.10V232.80" class="brk"/>
<text x="286.00" y="227.80" class="bl">d</text>
<path d="M284.50 217.50V215.50H317.10V217.50" class="brk"/>
<text x="301.40" y="212.40" class="bl">d</text>
<text transform="translate(240.00,217.90) rotate(-90)" class="yl" font-size="10.5"><tspan font-style="italic">LIN02593 RNA </tspan>Levels</text>
<text x="322.8" y="199.3" class="let">H</text>
<line x1="361.0" y1="197.0" x2="361.0" y2="345.1" class="ax"/>
<line x1="359.50" y1="345.10" x2="362.50" y2="345.10" class="mt"/>
<line x1="359.50" y1="334.52" x2="362.50" y2="334.52" class="mt"/>
<line x1="359.50" y1="323.94" x2="362.50" y2="323.94" class="mt"/>
<line x1="359.50" y1="313.36" x2="362.50" y2="313.36" class="mt"/>
<line x1="359.50" y1="302.79" x2="362.50" y2="302.79" class="mt"/>
<line x1="359.50" y1="292.21" x2="362.50" y2="292.21" class="mt"/>
<line x1="359.50" y1="281.63" x2="362.50" y2="281.63" class="mt"/>
<line x1="359.50" y1="271.05" x2="362.50" y2="271.05" class="mt"/>
<line x1="359.50" y1="260.47" x2="362.50" y2="260.47" class="mt"/>
<line x1="359.50" y1="249.89" x2="362.50" y2="249.89" class="mt"/>
<line x1="359.50" y1="239.31" x2="362.50" y2="239.31" class="mt"/>
<line x1="359.50" y1="228.74" x2="362.50" y2="228.74" class="mt"/>
<line x1="359.50" y1="218.16" x2="362.50" y2="218.16" class="mt"/>
<line x1="359.50" y1="207.58" x2="362.50" y2="207.58" class="mt"/>
<line x1="359.50" y1="197.00" x2="362.50" y2="197.00" class="mt"/>
<line x1="358.40" y1="345.10" x2="363.60" y2="345.10" class="Mt"/>
<text x="353.80" y="349.70" class="tk">0.0</text>
<line x1="358.40" y1="323.94" x2="363.60" y2="323.94" class="Mt"/>
<text x="353.80" y="328.54" class="tk">0.2</text>
<line x1="358.40" y1="302.79" x2="363.60" y2="302.79" class="Mt"/>
<text x="353.80" y="307.39" class="tk">0.4</text>
<line x1="358.40" y1="281.63" x2="363.60" y2="281.63" class="Mt"/>
<text x="353.80" y="286.23" class="tk">0.6</text>
<line x1="358.40" y1="260.47" x2="363.60" y2="260.47" class="Mt"/>
<text x="353.80" y="265.07" class="tk">0.8</text>
<line x1="358.40" y1="239.31" x2="363.60" y2="239.31" class="Mt"/>
<text x="353.80" y="243.91" class="tk">1.0</text>
<line x1="358.40" y1="218.16" x2="363.60" y2="218.16" class="Mt"/>
<text x="353.80" y="222.76" class="tk">1.2</text>
<line x1="358.40" y1="197.00" x2="363.60" y2="197.00" class="Mt"/>
<text x="353.80" y="201.60" class="tk">1.4</text>
<line x1="373.00" y1="225.20" x2="373.00" y2="239.30" class="eb"/>
<line x1="369.30" y1="225.20" x2="376.70" y2="225.20" class="eb"/>
<rect x="367.20" y="239.30" width="11.6" height="105.80" fill="#ff0000" class="bar"/>
<line x1="373.00" y1="345.10" x2="373.00" y2="347.30" class="ax"/>
<text x="373.00" y="362.30" class="xl">V</text>
<line x1="389.20" y1="273.70" x2="389.20" y2="286.10" class="eb"/>
<line x1="385.50" y1="273.70" x2="392.90" y2="273.70" class="eb"/>
<rect x="383.40" y="286.10" width="11.6" height="59.00" fill="#008000" class="bar"/>
<line x1="389.20" y1="345.10" x2="389.20" y2="347.30" class="ax"/>
<text x="389.20" y="362.30" class="xl">S</text>
<line x1="405.30" y1="329.80" x2="405.30" y2="331.90" class="eb"/>
<line x1="401.60" y1="329.80" x2="409.00" y2="329.80" class="eb"/>
<rect x="399.50" y="331.90" width="11.6" height="13.20" fill="#ffff00" class="bar"/>
<line x1="405.30" y1="345.10" x2="405.30" y2="347.30" class="ax"/>
<text x="405.30" y="362.30" class="xl">C</text>
<line x1="421.80" y1="330.00" x2="421.80" y2="334.00" class="eb"/>
<line x1="418.10" y1="330.00" x2="425.50" y2="330.00" class="eb"/>
<rect x="416.00" y="334.00" width="11.6" height="11.10" fill="#0000ff" class="bar"/>
<line x1="421.80" y1="345.10" x2="421.80" y2="347.30" class="ax"/>
<text x="421.80" y="362.30" class="xl">B</text>
<line x1="360.40" y1="345.10" x2="429.90" y2="345.10" class="ax"/>
<path d="M372.80 222.70V220.70H388.90V222.70" class="brk"/>
<text x="380.50" y="217.90" class="bl">d</text>
<path d="M371.50 210.10V208.10H404.00V210.10" class="brk"/>
<text x="387.50" y="204.60" class="bl">d</text>
<path d="M389.10 271.50V269.50H422.00V271.50" class="brk"/>
<text x="405.40" y="265.50" class="bl">d</text>
<text transform="translate(336.00,213.60) rotate(-90)" class="yl" font-size="10.5"><tspan font-style="italic">LINC01605 RNA </tspan>Levels</text>
<text x="436.9" y="199.3" class="let">I</text>
<line x1="470.3" y1="197.5" x2="470.3" y2="345.3" class="ax"/>
<line x1="468.80" y1="345.30" x2="471.80" y2="345.30" class="mt"/>
<line x1="468.80" y1="337.09" x2="471.80" y2="337.09" class="mt"/>
<line x1="468.80" y1="328.88" x2="471.80" y2="328.88" class="mt"/>
<line x1="468.80" y1="320.67" x2="471.80" y2="320.67" class="mt"/>
<line x1="468.80" y1="312.46" x2="471.80" y2="312.46" class="mt"/>
<line x1="468.80" y1="304.24" x2="471.80" y2="304.24" class="mt"/>
<line x1="468.80" y1="296.03" x2="471.80" y2="296.03" class="mt"/>
<line x1="468.80" y1="287.82" x2="471.80" y2="287.82" class="mt"/>
<line x1="468.80" y1="279.61" x2="471.80" y2="279.61" class="mt"/>
<line x1="468.80" y1="271.40" x2="471.80" y2="271.40" class="mt"/>
<line x1="468.80" y1="263.19" x2="471.80" y2="263.19" class="mt"/>
<line x1="468.80" y1="254.98" x2="471.80" y2="254.98" class="mt"/>
<line x1="468.80" y1="246.77" x2="471.80" y2="246.77" class="mt"/>
<line x1="468.80" y1="238.56" x2="471.80" y2="238.56" class="mt"/>
<line x1="468.80" y1="230.34" x2="471.80" y2="230.34" class="mt"/>
<line x1="468.80" y1="222.13" x2="471.80" y2="222.13" class="mt"/>
<line x1="468.80" y1="213.92" x2="471.80" y2="213.92" class="mt"/>
<line x1="468.80" y1="205.71" x2="471.80" y2="205.71" class="mt"/>
<line x1="468.80" y1="197.50" x2="471.80" y2="197.50" class="mt"/>
<line x1="467.70" y1="345.30" x2="472.90" y2="345.30" class="Mt"/>
<text x="463.10" y="349.90" class="tk">0.0</text>
<line x1="467.70" y1="328.88" x2="472.90" y2="328.88" class="Mt"/>
<text x="463.10" y="333.48" class="tk">0.2</text>
<line x1="467.70" y1="312.46" x2="472.90" y2="312.46" class="Mt"/>
<text x="463.10" y="317.06" class="tk">0.4</text>
<line x1="467.70" y1="296.03" x2="472.90" y2="296.03" class="Mt"/>
<text x="463.10" y="300.63" class="tk">0.6</text>
<line x1="467.70" y1="279.61" x2="472.90" y2="279.61" class="Mt"/>
<text x="463.10" y="284.21" class="tk">0.8</text>
<line x1="467.70" y1="263.19" x2="472.90" y2="263.19" class="Mt"/>
<text x="463.10" y="267.79" class="tk">1.0</text>
<line x1="467.70" y1="246.77" x2="472.90" y2="246.77" class="Mt"/>
<text x="463.10" y="251.37" class="tk">1.2</text>
<line x1="467.70" y1="230.34" x2="472.90" y2="230.34" class="Mt"/>
<text x="463.10" y="234.94" class="tk">1.4</text>
<line x1="467.70" y1="213.92" x2="472.90" y2="213.92" class="Mt"/>
<text x="463.10" y="218.52" class="tk">1.6</text>
<line x1="467.70" y1="197.50" x2="472.90" y2="197.50" class="Mt"/>
<text x="463.10" y="202.10" class="tk">1.8</text>
<line x1="482.30" y1="233.30" x2="482.30" y2="263.20" class="eb"/>
<line x1="478.60" y1="233.30" x2="486.00" y2="233.30" class="eb"/>
<rect x="476.50" y="263.20" width="11.6" height="82.10" fill="#ff0000" class="bar"/>
<line x1="482.30" y1="345.30" x2="482.30" y2="347.50" class="ax"/>
<text x="482.30" y="362.50" class="xl">V</text>
<line x1="498.60" y1="313.90" x2="498.60" y2="318.00" class="eb"/>
<line x1="494.90" y1="313.90" x2="502.30" y2="313.90" class="eb"/>
<rect x="492.80" y="318.00" width="11.6" height="27.30" fill="#008000" class="bar"/>
<line x1="498.60" y1="345.30" x2="498.60" y2="347.50" class="ax"/>
<text x="498.60" y="362.50" class="xl">S</text>
<line x1="515.10" y1="326.50" x2="515.10" y2="329.80" class="eb"/>
<line x1="511.40" y1="326.50" x2="518.80" y2="326.50" class="eb"/>
<rect x="509.30" y="329.80" width="11.6" height="15.50" fill="#ffff00" class="bar"/>
<line x1="515.10" y1="345.30" x2="515.10" y2="347.50" class="ax"/>
<text x="515.10" y="362.50" class="xl">C</text>
<line x1="531.30" y1="330.80" x2="531.30" y2="334.00" class="eb"/>
<line x1="527.60" y1="330.80" x2="535.00" y2="330.80" class="eb"/>
<rect x="525.50" y="334.00" width="11.6" height="11.30" fill="#0000ff" class="bar"/>
<line x1="531.30" y1="345.30" x2="531.30" y2="347.50" class="ax"/>
<text x="531.30" y="362.50" class="xl">B</text>
<line x1="469.70" y1="345.30" x2="539.40" y2="345.30" class="ax"/>
<path d="M482.10 230.70V228.70H498.20V230.70" class="brk"/>
<text x="489.70" y="226.10" class="bl">b</text>
<path d="M482.70 217.80V215.80H515.30V217.80" class="brk"/>
<text x="498.40" y="212.50" class="bl">c</text>
<text transform="translate(445.20,212.30) rotate(-90)" class="yl" font-size="10.5"><tspan font-style="italic">AL121578.3 RNA </tspan>Levels</text>
</svg>
</body></html>
